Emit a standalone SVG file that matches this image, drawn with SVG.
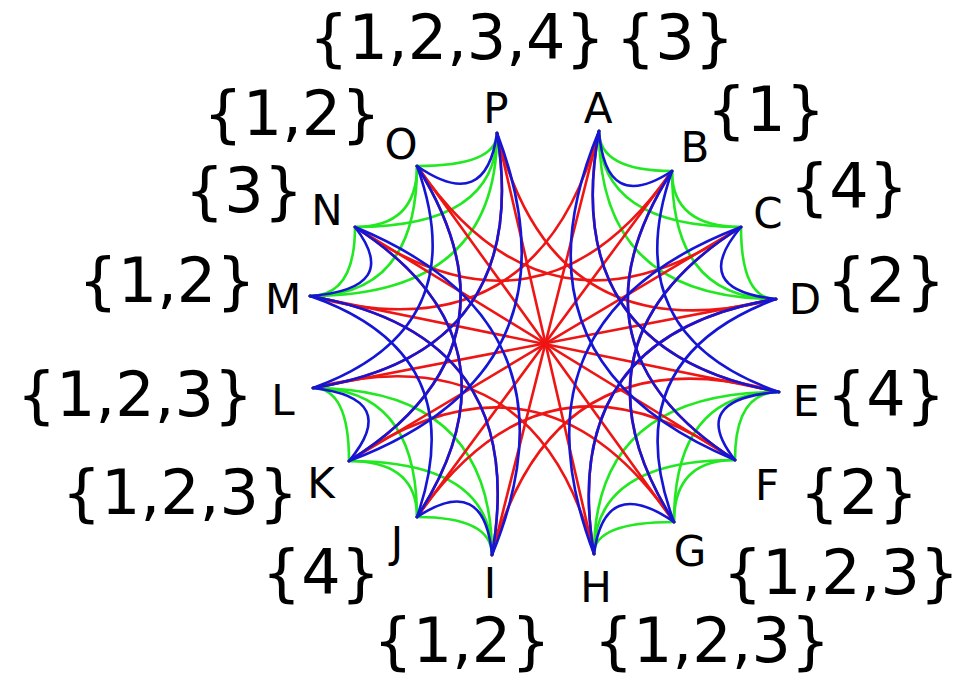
<svg xmlns="http://www.w3.org/2000/svg" width="969" height="676" viewBox="0 0 969 676">
<style>
.e path{fill:none;stroke-width:2.6;stroke-linecap:round}
.g path{stroke:#22e822}
.b path{stroke:#1515d5}
.r path{stroke:#ee1515}
.lb{font-family:"DejaVu Sans",sans-serif;font-size:42px;fill:#000;text-anchor:middle}
.ls{font-family:"DejaVu Sans",sans-serif;font-size:62px;fill:#000;text-anchor:middle}
</style>
<rect width="969" height="676" fill="#fff"/>
<g id="edges" class="e">
<g class="g">
<path d="M599,131 Q599,171 672,171"/><path d="M599,131 Q599,227 741,227"/><path d="M599,131 Q599,299 776,299"/>
<path d="M672,171 Q672,227 741,227"/><path d="M672,171 Q672,299 776,299"/><path d="M741,227 Q741,299 776,299"/>
<path d="M779,392 Q735,392 735,460"/><path d="M779,392 Q674,392 674,522"/><path d="M779,392 Q594,392 594,554"/>
<path d="M735,460 Q674,460 674,522"/><path d="M735,460 Q594,460 594,554"/><path d="M674,522 Q594,522 594,554"/>
<path d="M492,555 Q492,517 417,517"/><path d="M492,555 Q492,461 349,461"/><path d="M492,555 Q492,388 313,388"/>
<path d="M417,517 Q417,461 349,461"/><path d="M417,517 Q417,388 313,388"/><path d="M349,461 Q349,388 313,388"/>
<path d="M310,296 Q355,296 355,227"/><path d="M310,296 Q417,296 417,166"/><path d="M310,296 Q497,296 497,133"/>
<path d="M355,227 Q417,227 417,166"/><path d="M355,227 Q497,227 497,133"/><path d="M417,166 Q497,166 497,133"/>
</g>
<g class="r">
<path d="M599,131 L492,555"/><path d="M672,171 L417,517"/><path d="M741,227 L349,461"/><path d="M776,299 L313,388"/>
<path d="M779,392 L310,296"/><path d="M735,460 L355,227"/><path d="M674,522 L417,166"/><path d="M594,554 L497,133"/>
<path d="M599,131 Q558.5,351.5 779,392"/><path d="M599,131 Q537,358 310,296"/><path d="M779,392 Q554,330 492,555"/><path d="M492,555 Q530.5,334.5 310,296"/>
<path d="M672,171 Q559,347 735,460"/><path d="M672,171 Q541.5,357.5 355,227"/><path d="M735,460 Q547.5,329.5 417,517"/><path d="M417,517 Q531,341 355,227"/>
<path d="M741,227 Q560,341 674,522"/><path d="M741,227 Q548.5,358.5 417,166"/><path d="M674,522 Q542,329 349,461"/><path d="M349,461 Q530.5,347.5 417,166"/>
<path d="M776,299 Q557.5,335.5 594,554"/><path d="M776,299 Q553.5,355.5 497,133"/><path d="M594,554 Q536.5,330.5 313,388"/><path d="M313,388 Q532.5,352.5 497,133"/>
</g>
<g class="b">
<path d="M599,131 Q605.6,214.7 672,171"/><path d="M741,227 Q688,289.7 776,299"/><path d="M779,392 Q687,398.9 735,460"/><path d="M674,522 Q604.6,474 594,554"/>
<path d="M492,555 Q484.4,472.6 417,517"/><path d="M349,461 Q401.6,398 313,388"/><path d="M310,296 Q402.6,288.7 355,227"/><path d="M417,166 Q486,213.7 497,133"/>
<path d="M599,131 Q558.5,351.5 779,392"/><path d="M599,131 Q502.5,363.5 735,460"/><path d="M672,171 Q615,335 779,392"/><path d="M672,171 Q559,347 735,460"/>
<path d="M741,227 Q560,341 674,522"/><path d="M741,227 Q504,317 594,554"/><path d="M776,299 Q613.5,359.5 674,522"/><path d="M776,299 Q557.5,335.5 594,554"/>
<path d="M492,555 Q530.5,334.5 310,296"/><path d="M492,555 Q587.5,322.5 355,227"/><path d="M417,517 Q474,353 310,296"/><path d="M417,517 Q531,341 355,227"/>
<path d="M349,461 Q530.5,347.5 417,166"/><path d="M349,461 Q587,371 497,133"/><path d="M313,388 Q476,329 417,166"/><path d="M313,388 Q532.5,352.5 497,133"/>
</g>
</g>
<g id="node-A"><text class="lb" x="598" y="123">A</text><text class="ls" x="675" y="59">{3}</text></g>
<g id="node-B"><text class="lb" x="695" y="162">B</text><text class="ls" x="766" y="131">{1}</text></g>
<g id="node-C"><text class="lb" x="768" y="228">C</text><text class="ls" x="849" y="208">{4}</text></g>
<g id="node-D"><text class="lb" x="805" y="314">D</text><text class="ls" x="886" y="302">{2}</text></g>
<g id="node-E"><text class="lb" x="806" y="416">E</text><text class="ls" x="886" y="416">{4}</text></g>
<g id="node-F"><text class="lb" x="767" y="500">F</text><text class="ls" x="859" y="514">{2}</text></g>
<g id="node-G"><text class="lb" x="690" y="566">G</text><text class="ls" x="841" y="594">{1,2,3}</text></g>
<g id="node-H"><text class="lb" x="596" y="602">H</text><text class="ls" x="712" y="662">{1,2,3}</text></g>
<g id="node-I"><text class="lb" x="490" y="598">I</text><text class="ls" x="462" y="662">{1,2}</text></g>
<g id="node-J"><text class="lb" x="397" y="557">J</text><text class="ls" x="321" y="594">{4}</text></g>
<g id="node-K"><text class="lb" x="321" y="498">K</text><text class="ls" x="180" y="514">{1,2,3}</text></g>
<g id="node-L"><text class="lb" x="283" y="415">L</text><text class="ls" x="135" y="416">{1,2,3}</text></g>
<g id="node-M"><text class="lb" x="283" y="314">M</text><text class="ls" x="167" y="302">{1,2}</text></g>
<g id="node-N"><text class="lb" x="327" y="225">N</text><text class="ls" x="244" y="212">{3}</text></g>
<g id="node-O"><text class="lb" x="401" y="159">O</text><text class="ls" x="292" y="135">{1,2}</text></g>
<g id="node-P"><text class="lb" x="496" y="123">P</text><text class="ls" x="457" y="59">{1,2,3,4}</text></g>
</svg>
